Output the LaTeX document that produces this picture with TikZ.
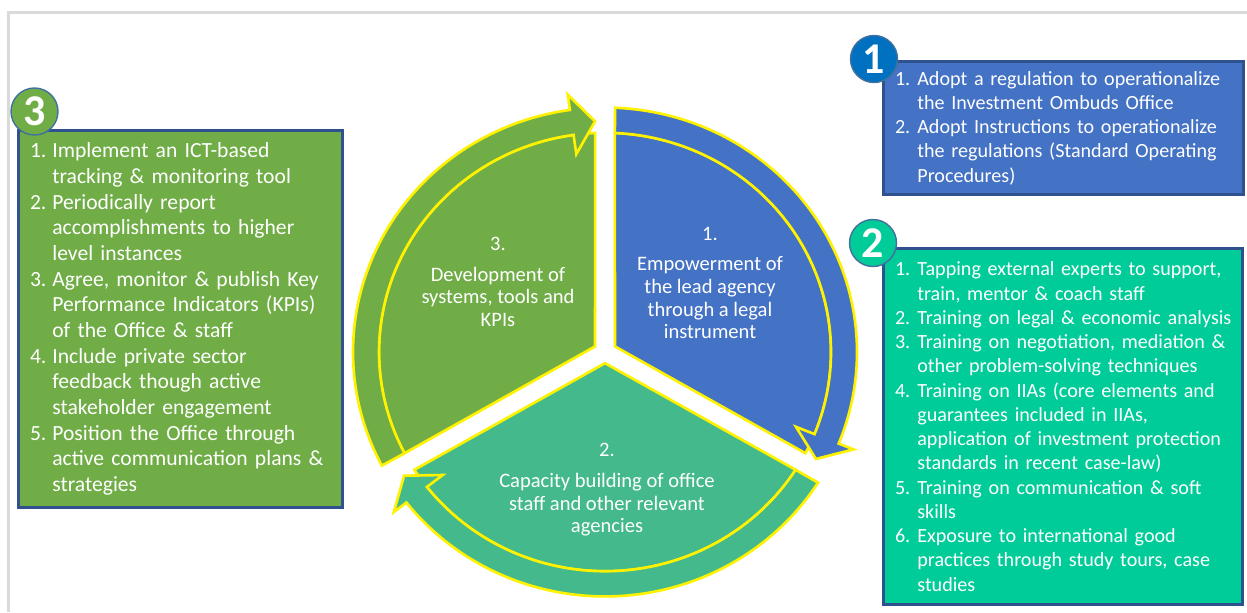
\documentclass[tikz,border=0pt]{standalone}
\usepackage{fontspec}
\setmainfont{Carlito}
\definecolor{ofgreen}{HTML}{70AD47}
\definecolor{ofblue}{HTML}{4472C4}
\definecolor{ofteal}{HTML}{44BA8C}
\definecolor{boxteal}{HTML}{00CC99}
\definecolor{badgeblue}{HTML}{0070C0}
\definecolor{boxborder}{HTML}{2F528F}
\definecolor{badgeborder}{HTML}{41719C}
\definecolor{framegray}{HTML}{DADADA}
\begin{document}
\begin{tikzpicture}[x=0.02cm,y=-0.02cm,
  segline/.style={fill=#1,draw=yellow,line width=1.5pt,line join=miter},
  cyctext/.style={text=white,align=center,font=\fontsize{11.7}{12.9}\selectfont},
  listbox/.style={draw=boxborder,line width=1.7pt,fill=#1,text=white,
    inner sep=0pt,align=left},
  badge/.style={circle,draw=badgeborder,line width=0.8pt,fill=#1,text=white,
    minimum size=0.94cm,inner sep=0pt,font=\fontsize{25}{30}\selectfont\bfseries}]
\def\numwidth{12.7pt}
\def\listentry#1#2{\leftskip=0.24cm\hangindent=\numwidth\hangafter=1\noindent
	\makebox[\numwidth][l]{#1}#2\par}
% wedge plus curved arrow band, from angle #1 clockwise to angle #2
\def\segment#1#2#3{
	\filldraw[segline=#3] ({(#1+#2)/2}:11.5) -- (#1-2.5:226)
		arc[start angle=#1-2.5,end angle=#2+2.5,radius=226] -- cycle;
	\filldraw[segline=#3] (#1-2.3:252)
		arc[start angle=#1-2.3,end angle=#2+8,radius=252]
		-- (#2+8:268) -- (#2+2.4:238) -- (#2+8:206) -- (#2+8:226)
		arc[start angle=#2+8,end angle=#1-2.5,radius=226] -- cycle;
}
\useasboundingbox (0,0) rectangle (1247,612);
\fill[white] (0,0) rectangle (1247,612);
\draw[framegray,line width=1.2pt] (1247,12.5) -- (8.5,12.5) -- (8.5,612);
\begin{scope}[shift={(605,352)},yscale=-0.97]
\segment{210}{90}{ofgreen}
\segment{90}{-30}{ofblue}
\segment{-30}{-150}{ofteal}
\end{scope}
\node (seg3) at (498,282) [cyctext] {3.\\[4.5pt]Development of\\systems, tools and\\KPIs};
\node (seg1) at (710,283) [cyctext] {1.\\[4.5pt]Empowerment of\\the lead agency\\through a legal\\instrument};
\node (seg2) at (607,490) [cyctext] {2.\\[4.5pt]Capacity building of office\\staff and other relevant\\agencies};
\node (list3) at (180.5,319) [listbox=ofgreen,text width=6.5cm,minimum width=6.5cm,
	minimum height=7.56cm,font=\fontsize{12.3}{14.6}\selectfont] {
	\listentry{1.}{Implement an ICT-based\newline tracking \& monitoring tool}
	\listentry{2.}{Periodically report\newline accomplishments to higher\newline level instances}
	\listentry{3.}{Agree, monitor \& publish Key\newline Performance Indicators (KPIs)\newline of the Office \& staff}
	\listentry{4.}{Include private sector\newline feedback though active\newline stakeholder engagement}
	\listentry{5.}{Position the Office through\newline active communication plans \&\newline strategies}};
\node (list1) at (1063.5,128) [listbox=ofblue,text width=7.22cm,minimum width=7.22cm,
	minimum height=2.68cm,font=\fontsize{11.45}{13.8}\selectfont] {
	\listentry{1.}{Adopt a regulation to operationalize\newline the Investment Ombuds Office}
	\listentry{2.}{Adopt Instructions to operationalize\newline the regulations (Standard Operating\newline Procedures)}};
\node (list2) at (1063,426.5) [listbox=boxteal,text width=7.2cm,minimum width=7.2cm,
	minimum height=7.14cm,font=\fontsize{11.45}{13.8}\selectfont] {
	\listentry{1.}{Tapping external experts to support,\newline train, mentor \& coach staff}
	\listentry{2.}{Training on legal \& economic analysis}
	\listentry{3.}{Training on negotiation, mediation \&\newline other problem-solving techniques}
	\listentry{4.}{Training on IIAs (core elements and\newline guarantees included in IIAs,\newline application of investment protection\newline standards in recent case-law)}
	\listentry{5.}{Training on communication \& soft\newline skills}
	\listentry{6.}{Exposure to international good\newline practices through study tours, case\newline studies}};
\node (badge3) at (34.5,111.5) [badge=ofgreen] {3};
\node (badge1) at (874,59) [badge=badgeblue] {1};
\node (badge2) at (873,243) [badge=boxteal] {2};
\end{tikzpicture}
\end{document}
